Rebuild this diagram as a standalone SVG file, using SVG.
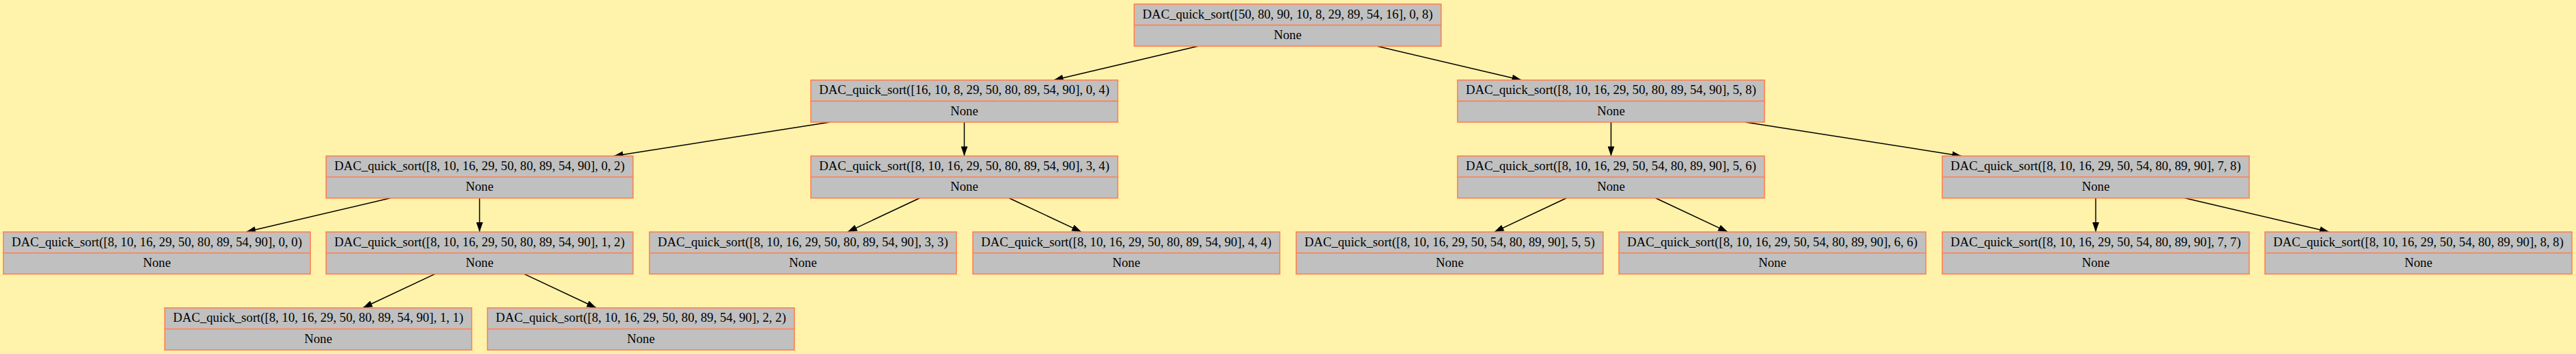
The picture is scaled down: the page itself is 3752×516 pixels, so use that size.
<svg xmlns="http://www.w3.org/2000/svg" width="3752" height="516" viewBox="0 0 3752 516">
<defs>
<style>
.box{fill:#c0c0c0;stroke:#ff7f50;stroke-width:1.6}
.div{stroke:#ff7f50;stroke-width:1.6}
.t{font-family:"Liberation Serif","Times New Roman",serif;font-size:18.67px;fill:#000;text-anchor:middle}
.e{stroke:#000;stroke-width:1.5;fill:none;marker-end:url(#ah)}
</style>
<marker id="ah" markerUnits="userSpaceOnUse" markerWidth="14" markerHeight="10" viewBox="0 0 13.3 9.34" refX="13.3" refY="4.67" orient="auto">
<path d="M0,0 L13.3,4.67 L0,9.34 z" fill="#000"/>
</marker>
<g id="nodeTpl"></g>
</defs>
<rect x="0" y="0" width="3752" height="516" fill="#fff2aa"/>
<g id="connectors">
<line class="e" x1="1745.2" y1="67.3" x2="1534.8" y2="116.7"/>
<line class="e" x1="2005.8" y1="67.3" x2="2216.2" y2="116.7"/>
<line class="e" x1="1209.2" y1="178" x2="893.8" y2="227.4"/>
<line class="e" x1="1404.5" y1="178" x2="1404.5" y2="227.4"/>
<line class="e" x1="2346.5" y1="178" x2="2346.5" y2="227.4"/>
<line class="e" x1="2541.8" y1="178" x2="2857.2" y2="227.4"/>
<line class="e" x1="568.5" y1="288.7" x2="358.5" y2="338.1"/>
<line class="e" x1="698.5" y1="288.7" x2="698.5" y2="338.1"/>
<line class="e" x1="1339.5" y1="288.7" x2="1234.5" y2="338.1"/>
<line class="e" x1="1469.8" y1="288.7" x2="1575.2" y2="338.1"/>
<line class="e" x1="2281.5" y1="288.7" x2="2176.5" y2="338.1"/>
<line class="e" x1="2411.5" y1="288.7" x2="2516.5" y2="338.1"/>
<line class="e" x1="3052.5" y1="288.7" x2="3052.5" y2="338.1"/>
<line class="e" x1="3182.5" y1="288.7" x2="3392.5" y2="338.1"/>
<line class="e" x1="633.5" y1="399.4" x2="528.5" y2="448.8"/>
<line class="e" x1="763.5" y1="399.4" x2="868.5" y2="448.8"/>
</g>
<g id="n_0_8" transform="translate(1652,6)">
<rect class="box" width="447" height="61.3"/><line class="div" x1="0" y1="30.67" x2="447" y2="30.67"/>
<text class="t" x="223.5" y="20.5">DAC_quick_sort([50, 80, 90, 10, 8, 29, 89, 54, 16], 0, 8)</text>
<text class="t" x="223.5" y="51">None</text>
</g>
<g id="n_0_4" transform="translate(1181,116.7)">
<rect class="box" width="447" height="61.3"/><line class="div" x1="0" y1="30.67" x2="447" y2="30.67"/>
<text class="t" x="223.5" y="20.5">DAC_quick_sort([16, 10, 8, 29, 50, 80, 89, 54, 90], 0, 4)</text>
<text class="t" x="223.5" y="51">None</text>
</g>
<g id="n_5_8" transform="translate(2123,116.7)">
<rect class="box" width="447" height="61.3"/><line class="div" x1="0" y1="30.67" x2="447" y2="30.67"/>
<text class="t" x="223.5" y="20.5">DAC_quick_sort([8, 10, 16, 29, 50, 80, 89, 54, 90], 5, 8)</text>
<text class="t" x="223.5" y="51">None</text>
</g>
<g id="n_0_2" transform="translate(475,227.4)">
<rect class="box" width="447" height="61.3"/><line class="div" x1="0" y1="30.67" x2="447" y2="30.67"/>
<text class="t" x="223.5" y="20.5">DAC_quick_sort([8, 10, 16, 29, 50, 80, 89, 54, 90], 0, 2)</text>
<text class="t" x="223.5" y="51">None</text>
</g>
<g id="n_3_4" transform="translate(1181,227.4)">
<rect class="box" width="447" height="61.3"/><line class="div" x1="0" y1="30.67" x2="447" y2="30.67"/>
<text class="t" x="223.5" y="20.5">DAC_quick_sort([8, 10, 16, 29, 50, 80, 89, 54, 90], 3, 4)</text>
<text class="t" x="223.5" y="51">None</text>
</g>
<g id="n_5_6" transform="translate(2123,227.4)">
<rect class="box" width="447" height="61.3"/><line class="div" x1="0" y1="30.67" x2="447" y2="30.67"/>
<text class="t" x="223.5" y="20.5">DAC_quick_sort([8, 10, 16, 29, 50, 54, 80, 89, 90], 5, 6)</text>
<text class="t" x="223.5" y="51">None</text>
</g>
<g id="n_7_8" transform="translate(2829,227.4)">
<rect class="box" width="447" height="61.3"/><line class="div" x1="0" y1="30.67" x2="447" y2="30.67"/>
<text class="t" x="223.5" y="20.5">DAC_quick_sort([8, 10, 16, 29, 50, 54, 80, 89, 90], 7, 8)</text>
<text class="t" x="223.5" y="51">None</text>
</g>
<g id="n_0_0" transform="translate(5,338.1)">
<rect class="box" width="447" height="61.3"/><line class="div" x1="0" y1="30.67" x2="447" y2="30.67"/>
<text class="t" x="223.5" y="20.5">DAC_quick_sort([8, 10, 16, 29, 50, 80, 89, 54, 90], 0, 0)</text>
<text class="t" x="223.5" y="51">None</text>
</g>
<g id="n_1_2" transform="translate(475,338.1)">
<rect class="box" width="447" height="61.3"/><line class="div" x1="0" y1="30.67" x2="447" y2="30.67"/>
<text class="t" x="223.5" y="20.5">DAC_quick_sort([8, 10, 16, 29, 50, 80, 89, 54, 90], 1, 2)</text>
<text class="t" x="223.5" y="51">None</text>
</g>
<g id="n_3_3" transform="translate(946,338.1)">
<rect class="box" width="447" height="61.3"/><line class="div" x1="0" y1="30.67" x2="447" y2="30.67"/>
<text class="t" x="223.5" y="20.5">DAC_quick_sort([8, 10, 16, 29, 50, 80, 89, 54, 90], 3, 3)</text>
<text class="t" x="223.5" y="51">None</text>
</g>
<g id="n_4_4" transform="translate(1417,338.1)">
<rect class="box" width="447" height="61.3"/><line class="div" x1="0" y1="30.67" x2="447" y2="30.67"/>
<text class="t" x="223.5" y="20.5">DAC_quick_sort([8, 10, 16, 29, 50, 80, 89, 54, 90], 4, 4)</text>
<text class="t" x="223.5" y="51">None</text>
</g>
<g id="n_5_5" transform="translate(1888,338.1)">
<rect class="box" width="447" height="61.3"/><line class="div" x1="0" y1="30.67" x2="447" y2="30.67"/>
<text class="t" x="223.5" y="20.5">DAC_quick_sort([8, 10, 16, 29, 50, 54, 80, 89, 90], 5, 5)</text>
<text class="t" x="223.5" y="51">None</text>
</g>
<g id="n_6_6" transform="translate(2358,338.1)">
<rect class="box" width="447" height="61.3"/><line class="div" x1="0" y1="30.67" x2="447" y2="30.67"/>
<text class="t" x="223.5" y="20.5">DAC_quick_sort([8, 10, 16, 29, 50, 54, 80, 89, 90], 6, 6)</text>
<text class="t" x="223.5" y="51">None</text>
</g>
<g id="n_7_7" transform="translate(2829,338.1)">
<rect class="box" width="447" height="61.3"/><line class="div" x1="0" y1="30.67" x2="447" y2="30.67"/>
<text class="t" x="223.5" y="20.5">DAC_quick_sort([8, 10, 16, 29, 50, 54, 80, 89, 90], 7, 7)</text>
<text class="t" x="223.5" y="51">None</text>
</g>
<g id="n_8_8" transform="translate(3299,338.1)">
<rect class="box" width="447" height="61.3"/><line class="div" x1="0" y1="30.67" x2="447" y2="30.67"/>
<text class="t" x="223.5" y="20.5">DAC_quick_sort([8, 10, 16, 29, 50, 54, 80, 89, 90], 8, 8)</text>
<text class="t" x="223.5" y="51">None</text>
</g>
<g id="n_1_1" transform="translate(240,448.8)">
<rect class="box" width="447" height="61.3"/><line class="div" x1="0" y1="30.67" x2="447" y2="30.67"/>
<text class="t" x="223.5" y="20.5">DAC_quick_sort([8, 10, 16, 29, 50, 80, 89, 54, 90], 1, 1)</text>
<text class="t" x="223.5" y="51">None</text>
</g>
<g id="n_2_2" transform="translate(710,448.8)">
<rect class="box" width="447" height="61.3"/><line class="div" x1="0" y1="30.67" x2="447" y2="30.67"/>
<text class="t" x="223.5" y="20.5">DAC_quick_sort([8, 10, 16, 29, 50, 80, 89, 54, 90], 2, 2)</text>
<text class="t" x="223.5" y="51">None</text>
</g>
</svg>
